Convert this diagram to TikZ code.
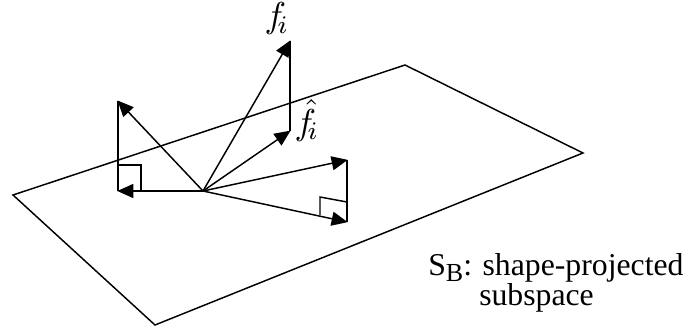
\documentclass[tikz,border=0pt]{standalone}
\usepackage{fontspec}
\setmainfont{Liberation Serif}
\usetikzlibrary{arrows.meta}
\tikzset{
  x=0.75pt,y=-0.75pt,
  plane/.style={line width=1.1pt,line join=miter},
  vec/.style={line width=1.1pt,-{Triangle[length=12pt,width=10.5pt]},shorten >=-0.5pt},
  edge/.style={line width=1.2pt},
  mark90/.style={line width=1.1pt},
  lab/.style={inner sep=0pt,font=\fontsize{23.8}{24}\selectfont,anchor=base west},
  sym/.style={inner sep=0pt,scale=2.7,anchor=base west}
}
\newcommand{\subtxt}[1]{\raisebox{-0.22em}{\fontsize{19.5}{20}\selectfont #1}}
\begin{document}
\begin{tikzpicture}
\useasboundingbox (0,0) rectangle (688,328);
\coordinate (pa) at (13,195);
\coordinate (pb) at (405,65);
\coordinate (pc) at (583,153);
\coordinate (pd) at (155,325);
\coordinate (o) at (203,191);
\coordinate (ft) at (290,41);
\coordinate (fh) at (290,131);
\coordinate (lt) at (118,101);
\coordinate (lb) at (118,191);
\coordinate (rt) at (347,160);
\coordinate (rb) at (347,222);
\coordinate (m1) at (118,165);
\coordinate (m2) at (141,165);
\coordinate (m3) at (141,191);
\coordinate (n1) at (347,202);
\coordinate (n2) at (320,197);
\coordinate (n3) at (320,215);
\draw[plane] (pa) -- (pb) -- (pc) -- (pd) -- cycle;
\draw[edge] (ft) -- (fh);
\draw[edge] (lt) -- (lb);
\draw[edge] (rt) -- (rb);
\draw[mark90] (m1) -- (m2) -- (m3);
\draw[mark90] (n1) -- (n2) -- (n3);
\draw[vec] (o) -- (ft);
\draw[vec] (o) -- (fh);
\draw[vec] (o) -- (lt);
\draw[vec] (o) -- (lb);
\draw[vec] (o) -- (rt);
\draw[vec] (o) -- (rb);
\node[sym] (fi) at (264,28) {$f_{\!i}$};
\node[sym] (fhat) at (294,134) {$\hat{f}_{\!i}$};
\node[lab] (sb) at (428,275) {S\subtxt{B}: shape-projected};
\node[lab] (sub) at (479,305) {subspace};
\end{tikzpicture}
\end{document}
